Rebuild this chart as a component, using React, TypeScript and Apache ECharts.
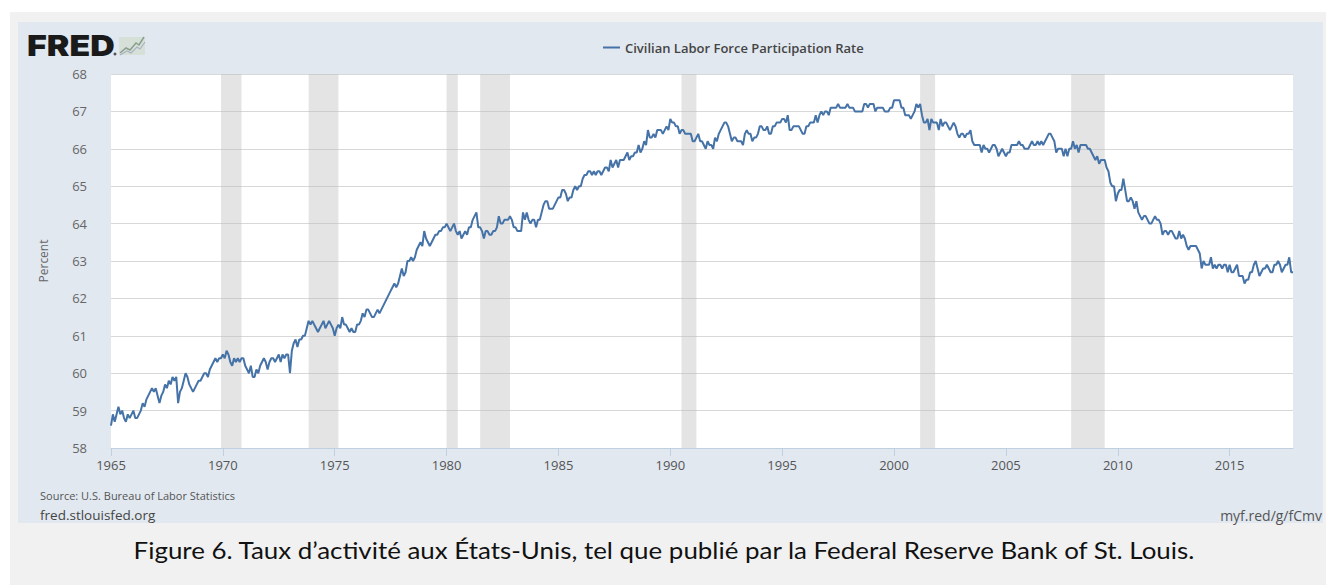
import React, { useEffect, useRef } from "react";
import * as echarts from "echarts";

const START_YEAR = 1965;
const yTicks = [58, 59, 60, 61, 62, 63, 64, 65, 66, 67, 68];
const xTickLabels = ["1965", "1970", "1975", "1980", "1985", "1990", "1995", "2000", "2005", "2010", "2015"];

// Civilian Labor Force Participation Rate, monthly, Jan 1965 – Nov 2017 (percent)
const participationRate: number[] = [
  // 1965
  58.6, 58.9, 58.7, 58.9, 59.1, 58.9, 59.0, 58.8, 58.7, 58.9, 58.8, 58.9,
  // 1966
  59.0, 58.8, 58.8, 58.9, 59.0, 59.2, 59.1, 59.3, 59.4, 59.5, 59.6, 59.5,
  // 1967
  59.6, 59.4, 59.2, 59.4, 59.5, 59.7, 59.6, 59.8, 59.7, 59.9, 59.8, 59.9,
  // 1968
  59.2, 59.5, 59.6, 59.8, 60.0, 59.9, 59.7, 59.6, 59.5, 59.6, 59.7, 59.8,
  // 1969
  59.8, 59.9, 60.0, 60.0, 59.9, 60.1, 60.2, 60.3, 60.4, 60.3, 60.4, 60.4,
  // 1970
  60.5, 60.4, 60.6, 60.5, 60.3, 60.2, 60.4, 60.3, 60.4, 60.3, 60.4, 60.4,
  // 1971
  60.2, 60.1, 60.0, 60.2, 59.9, 59.9, 60.1, 60.0, 60.2, 60.3, 60.4, 60.3,
  // 1972
  60.1, 60.3, 60.4, 60.4, 60.3, 60.4, 60.5, 60.3, 60.5, 60.4, 60.5, 60.5,
  // 1973
  60.0, 60.6, 60.8, 60.9, 60.7, 60.9, 60.9, 61.0, 61.0, 61.2, 61.4, 61.3,
  // 1974
  61.4, 61.3, 61.2, 61.1, 61.2, 61.3, 61.4, 61.2, 61.3, 61.4, 61.3, 61.2,
  // 1975
  61.0, 61.2, 61.3, 61.2, 61.5, 61.3, 61.3, 61.2, 61.1, 61.2, 61.1, 61.1,
  // 1976
  61.3, 61.3, 61.4, 61.6, 61.5, 61.7, 61.7, 61.6, 61.5, 61.5, 61.6, 61.7,
  // 1977
  61.6, 61.7, 61.8, 61.9, 62.0, 62.1, 62.2, 62.3, 62.4, 62.3, 62.4, 62.6,
  // 1978
  62.8, 62.6, 62.7, 63.0, 63.0, 63.1, 63.0, 63.1, 63.3, 63.4, 63.5, 63.4,
  // 1979
  63.8, 63.6, 63.5, 63.4, 63.5, 63.6, 63.7, 63.7, 63.8, 63.8, 63.9, 63.9,
  // 1980
  64.0, 63.9, 63.8, 63.9, 64.0, 63.8, 63.7, 63.8, 63.6, 63.7, 63.8, 63.7,
  // 1981
  63.9, 63.9, 64.1, 64.2, 64.3, 63.9, 63.9, 63.8, 63.6, 63.8, 63.8, 63.7,
  // 1982
  63.7, 63.8, 63.8, 63.9, 64.2, 64.0, 64.0, 64.1, 64.1, 64.1, 64.2, 64.1,
  // 1983
  63.9, 63.9, 63.8, 63.8, 63.8, 64.3, 64.1, 64.3, 64.1, 64.0, 64.1, 64.1,
  // 1984
  63.9, 64.1, 64.1, 64.3, 64.5, 64.6, 64.6, 64.4, 64.4, 64.4, 64.5, 64.6,
  // 1985
  64.7, 64.7, 64.9, 64.9, 64.8, 64.6, 64.7, 64.7, 64.9, 65.0, 64.9, 65.0,
  // 1986
  65.0, 65.2, 65.3, 65.3, 65.4, 65.4, 65.3, 65.4, 65.3, 65.4, 65.4, 65.3,
  // 1987
  65.4, 65.5, 65.5, 65.4, 65.7, 65.5, 65.6, 65.7, 65.5, 65.7, 65.7, 65.7,
  // 1988
  65.8, 65.9, 65.7, 65.8, 65.8, 65.9, 65.9, 66.1, 65.9, 66.0, 66.2, 66.1,
  // 1989
  66.5, 66.3, 66.3, 66.4, 66.3, 66.5, 66.5, 66.5, 66.4, 66.5, 66.6, 66.5,
  // 1990
  66.8, 66.7, 66.7, 66.6, 66.6, 66.4, 66.5, 66.5, 66.4, 66.4, 66.4, 66.4,
  // 1991
  66.2, 66.2, 66.3, 66.4, 66.2, 66.2, 66.1, 66.0, 66.2, 66.1, 66.1, 66.0,
  // 1992
  66.3, 66.2, 66.4, 66.5, 66.6, 66.7, 66.7, 66.6, 66.4, 66.2, 66.3, 66.3,
  // 1993
  66.2, 66.2, 66.2, 66.1, 66.4, 66.5, 66.4, 66.4, 66.2, 66.3, 66.3, 66.4,
  // 1994
  66.6, 66.6, 66.5, 66.5, 66.6, 66.4, 66.4, 66.6, 66.6, 66.7, 66.7, 66.7,
  // 1995
  66.8, 66.8, 66.7, 66.9, 66.5, 66.5, 66.6, 66.6, 66.6, 66.6, 66.5, 66.4,
  // 1996
  66.4, 66.6, 66.6, 66.7, 66.7, 66.7, 66.9, 66.7, 66.9, 67.0, 66.9, 67.0,
  // 1997
  67.0, 66.9, 67.1, 67.1, 67.1, 67.1, 67.2, 67.1, 67.1, 67.1, 67.1, 67.2,
  // 1998
  67.1, 67.1, 67.1, 67.0, 67.0, 67.0, 67.0, 67.0, 67.2, 67.2, 67.1, 67.2,
  // 1999
  67.2, 67.2, 67.0, 67.1, 67.1, 67.1, 67.1, 67.0, 67.0, 67.0, 67.1, 67.1,
  // 2000
  67.3, 67.3, 67.3, 67.3, 67.1, 67.1, 66.9, 66.9, 66.9, 66.8, 66.9, 67.0,
  // 2001
  67.2, 67.1, 67.2, 66.9, 66.7, 66.7, 66.8, 66.5, 66.8, 66.7, 66.7, 66.7,
  // 2002
  66.5, 66.8, 66.6, 66.7, 66.7, 66.6, 66.5, 66.6, 66.7, 66.6, 66.4, 66.3,
  // 2003
  66.4, 66.4, 66.3, 66.4, 66.4, 66.5, 66.2, 66.1, 66.1, 66.1, 66.1, 65.9,
  // 2004
  66.1, 66.0, 66.0, 65.9, 66.0, 66.1, 66.1, 66.0, 65.8, 65.9, 66.0, 65.9,
  // 2005
  65.8, 65.9, 65.9, 66.1, 66.1, 66.1, 66.1, 66.2, 66.1, 66.1, 66.0, 66.0,
  // 2006
  66.0, 66.1, 66.2, 66.1, 66.1, 66.2, 66.1, 66.2, 66.1, 66.2, 66.3, 66.4,
  // 2007
  66.4, 66.3, 66.2, 65.9, 66.0, 66.0, 66.0, 65.8, 66.0, 65.8, 66.0, 66.0,
  // 2008
  66.2, 66.0, 66.1, 65.9, 66.1, 66.1, 66.1, 66.1, 66.0, 66.0, 65.9, 65.8,
  // 2009
  65.7, 65.8, 65.6, 65.7, 65.7, 65.7, 65.5, 65.4, 65.1, 65.0, 65.0, 64.6,
  // 2010
  64.8, 64.9, 64.9, 65.2, 64.9, 64.6, 64.6, 64.7, 64.6, 64.4, 64.6, 64.3,
  // 2011
  64.2, 64.1, 64.2, 64.2, 64.1, 64.0, 64.0, 64.1, 64.2, 64.1, 64.1, 64.0,
  // 2012
  63.7, 63.8, 63.8, 63.7, 63.8, 63.8, 63.7, 63.6, 63.6, 63.8, 63.6, 63.7,
  // 2013
  63.6, 63.4, 63.3, 63.4, 63.4, 63.4, 63.4, 63.3, 63.2, 62.8, 63.0, 62.9,
  // 2014
  62.9, 62.9, 63.1, 62.8, 62.9, 62.8, 62.9, 62.9, 62.8, 62.9, 62.9, 62.7,
  // 2015
  62.9, 62.7, 62.7, 62.8, 62.9, 62.6, 62.6, 62.6, 62.4, 62.5, 62.5, 62.7,
  // 2016
  62.7, 62.9, 63.0, 62.8, 62.6, 62.7, 62.8, 62.8, 62.9, 62.8, 62.7, 62.7,
  // 2017
  62.9, 62.9, 63.0, 62.9, 62.7, 62.8, 62.9, 62.9, 63.1, 62.7, 62.7,
];

// NBER recessions (first and last month)
const recessionStarts = ["1969-12", "1973-11", "1980-01", "1981-07", "1990-07", "2001-03", "2007-12"];
const recessionEnds = ["1970-11", "1975-03", "1980-07", "1982-11", "1991-03", "2001-11", "2009-06"];

const seriesName = "Civilian Labor Force Participation Rate";
const yAxisName = "Percent";
const sourceText = "Source: U.S. Bureau of Labor Statistics";
const siteText = "fred.stlouisfed.org";
const shortLink = "myf.red/g/fCmv";
const captionText = "Figure 6. Taux d\u2019activité aux États-Unis, tel que publié par la Federal Reserve Bank of St. Louis.";

const toYear = (ym: string) => {
  const [y, m] = ym.split("-").map(Number);
  return y + (m - 1) / 12;
};

const FONT = "'Open Sans', 'Noto Sans', sans-serif";

export default function App() {
  const ref = useRef<HTMLDivElement>(null);

  useEffect(() => {
    if (!ref.current) return;
    const chart = echarts.init(ref.current, null, { renderer: "svg" });
    const lineData = participationRate.map((v, i) => [START_YEAR + i / 12, v]);
    const xMax = START_YEAR + (participationRate.length - 1) / 12;
    const areas = recessionStarts.map((s, i) => [
      { xAxis: toYear(s) },
      { xAxis: toYear(recessionEnds[i]) },
    ]);

    chart.setOption({
      animation: false,
      textStyle: { fontFamily: FONT },
      graphic: [
        { type: "rect", z: -20, silent: true, shape: { x: 10, y: 12, width: 1316, height: 573 }, style: { fill: "#f1f1f1" } },
        { type: "rect", z: -19, silent: true, shape: { x: 18, y: 22, width: 1305, height: 501 }, style: { fill: "#e1e8f0" } },
        {
          type: "text", x: 27, y: 45, scaleX: 1.17, silent: true,
          style: { text: "FRED", fill: "#1a1a1a", font: "900 29px Inter, 'Open Sans', sans-serif", textVerticalAlign: "middle", textAlign: "left" },
        },
        { type: "circle", silent: true, shape: { cx: 115, cy: 54, r: 1.5 }, style: { fill: "#555" } },
        { type: "rect", silent: true, shape: { x: 119, y: 37, width: 26, height: 18 }, style: { fill: "#d6dfd8" } },
        { type: "polyline", silent: true, shape: { points: [[120, 53], [126, 48], [130, 50], [136, 43], [139, 45], [144, 37]] }, style: { stroke: "#8aa08e", lineWidth: 1.5, fill: "none" } },
        { type: "polyline", silent: true, shape: { points: [[120, 55], [127, 51], [131, 53], [137, 47], [140, 49], [145, 42]] }, style: { stroke: "#a8b4c0", lineWidth: 1.2, fill: "none" } },
        {
          type: "text", x: 40, y: 495, silent: true,
          style: { text: sourceText, fill: "#555", font: `11px ${FONT}`, textVerticalAlign: "middle" },
        },
        {
          type: "text", x: 40, y: 515, silent: true,
          style: { text: siteText, fill: "#444", font: `13.5px ${FONT}`, textVerticalAlign: "middle" },
        },
        {
          type: "text", x: 1322, y: 515, silent: true,
          style: { text: shortLink, fill: "#555", font: `14px ${FONT}`, textVerticalAlign: "middle", textAlign: "right" },
        },
        {
          type: "text", x: 664, y: 549, scaleX: 1.08, silent: true,
          style: { text: captionText, fill: "#111", font: "24px Lato, 'Open Sans', sans-serif", textVerticalAlign: "middle", textAlign: "center" },
        },
      ],
      legend: {
        left: 598,
        top: 36,
        itemWidth: 17,
        itemHeight: 2,
        icon: "rect",
        itemGap: 10,
        textStyle: { fontSize: 13, fontWeight: 600, color: "#444", fontFamily: FONT },
        data: [seriesName],
      },
      grid: {
        left: 111,
        right: 33,
        top: 74,
        bottom: 137,
        show: true,
        backgroundColor: "#ffffff",
        borderWidth: 0,
      },
      xAxis: {
        type: "value",
        min: START_YEAR,
        max: xMax,
        interval: 5,
        axisLine: { show: true, lineStyle: { color: "#c0d0e0", width: 1 } },
        axisTick: { show: true, length: 8, lineStyle: { color: "#c0d0e0" } },
        axisLabel: {
          color: "#555",
          fontSize: 13,
          margin: 10,
          showMaxLabel: false,
          formatter: (v: number) => {
            const idx = Math.round((v - START_YEAR) / 5);
            return xTickLabels[idx] ?? "";
          },
        },
        splitLine: { show: false },
      },
      yAxis: {
        type: "value",
        min: yTicks[0],
        max: yTicks[yTicks.length - 1],
        interval: 1,
        name: yAxisName,
        nameLocation: "middle",
        nameGap: 62,
        nameTextStyle: { color: "#666", fontSize: 12, fontFamily: FONT },
        axisLine: { show: false },
        axisTick: { show: false },
        axisLabel: { color: "#666", fontSize: 13, margin: 24 },
        splitLine: { show: true, lineStyle: { color: "#d8d8d8", width: 1 } },
      },
      series: [
        {
          name: seriesName,
          type: "line",
          data: lineData,
          showSymbol: false,
          symbol: "none",
          itemStyle: { color: "#4572a7" },
          lineStyle: { color: "#4572a7", width: 2 },
          markArea: {
            silent: true,
            itemStyle: { color: "rgba(190,190,190,0.42)" },
            data: areas,
          },
          z: 3,
        },
      ],
    });
    return () => chart.dispose();
  }, []);

  return (
    <div
      ref={ref}
      style={{ position: "absolute", left: 0, top: 0, width: 1326, height: 585, background: "#ffffff" }}
    />
  );
}
